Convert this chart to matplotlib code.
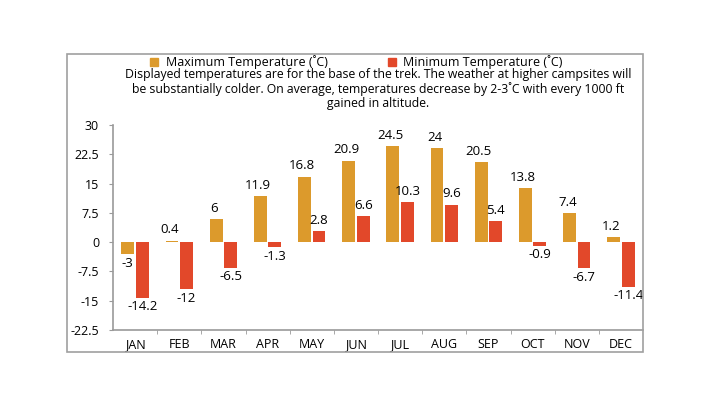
import matplotlib.pyplot as plt
from matplotlib.patches import Rectangle
import numpy as np

plt.rcParams['font.family'] = ['Open Sans', 'DejaVu Sans']

months = ['JAN', 'FEB', 'MAR', 'APR', 'MAY', 'JUN', 'JUL', 'AUG', 'SEP', 'OCT', 'NOV', 'DEC']
max_temp = [-3, 0.4, 6, 11.9, 16.8, 20.9, 24.5, 24, 20.5, 13.8, 7.4, 1.2]
min_temp = [-14.2, -12, -6.5, -1.3, 2.8, 6.6, 10.3, 9.6, 5.4, -0.9, -6.7, -11.4]
yticks = [-22.5, -15, -7.5, 0, 7.5, 15, 22.5, 30]

c_max = '#DC9A2C'
c_min = '#E2482A'
grey = '#9a9a9a'

W, H = 709, 399
fig = plt.figure(figsize=(W / 100, H / 100), dpi=100)

# outer frame
fig.patches.append(Rectangle((67 / W, 1 - 352 / H), (643 - 67) / W, (352 - 54) / H,
                             transform=fig.transFigure, fill=False, ec='#a0a0a0', lw=1.2))

ax = fig.add_axes([113 / W, 1 - 330 / H, (643 - 113) / W, (330 - 125) / H])

x = np.arange(len(months))
w = 0.29
off = 0.165
ax.bar(x - off, max_temp, w, color=c_max, zorder=2)
ax.bar(x + off, min_temp, w, color=c_min, zorder=2)

for xi, v in zip(x, max_temp):
    if v >= 0:
        ax.annotate(str(v), (xi - off - 0.05, v), xytext=(0, 3), textcoords='offset points',
                    ha='center', va='bottom', fontsize=9.5)
    else:
        ax.annotate(str(v), (xi - off, v), xytext=(0, -2), textcoords='offset points',
                    ha='center', va='top', fontsize=9.5)
for xi, v in zip(x, min_temp):
    if v >= 0:
        ax.annotate(str(v), (xi + off, v), xytext=(0, 3), textcoords='offset points',
                    ha='center', va='bottom', fontsize=9.5)
    else:
        ax.annotate(str(v), (xi + off, v), xytext=(0, -2), textcoords='offset points',
                    ha='center', va='top', fontsize=9.5)

ax.set_xlim(-0.5, 11.5)
ax.set_ylim(-22.5, 30)
ax.set_yticks(yticks)
ax.set_yticklabels([('%g' % t) for t in yticks], fontsize=9)
ax.set_xticks(x)
ax.set_xticklabels(months, fontsize=9)
ax.set_xticks(np.arange(0.5, 11, 1), minor=True)
ax.tick_params(axis='x', which='major', length=0, pad=6)
ax.tick_params(axis='x', which='minor', length=3, color=grey)
ax.tick_params(axis='y', length=3, color=grey, pad=7)

for s in ['top', 'right']:
    ax.spines[s].set_visible(False)
for s in ['left', 'bottom']:
    ax.spines[s].set_color(grey)
    ax.spines[s].set_linewidth(1.2)

# legend
fig.patches.append(Rectangle((150 / W, 1 - 66 / H), 8 / W, 8 / H, transform=fig.transFigure,
                             color=c_max))
fig.text(166 / W, 1 - 62 / H, 'Maximum Temperature (˚C)', fontsize=9, va='center')
fig.patches.append(Rectangle((388 / W, 1 - 66 / H), 8 / W, 8 / H, transform=fig.transFigure,
                             color=c_min))
fig.text(403 / W, 1 - 62 / H, 'Minimum Temperature (˚C)', fontsize=9, va='center')

note = ('Displayed temperatures are for the base of the trek. The weather at higher campsites will\n'
        'be substantially colder. On average, temperatures decrease by 2-3˚C with every 1000 ft\n'
        'gained in altitude.')
fig.text(378 / W, 1 - 68 / H, note, fontsize=8.8, ha='center', va='top', linespacing=1.1)

fig.savefig('out.png', dpi=100)
